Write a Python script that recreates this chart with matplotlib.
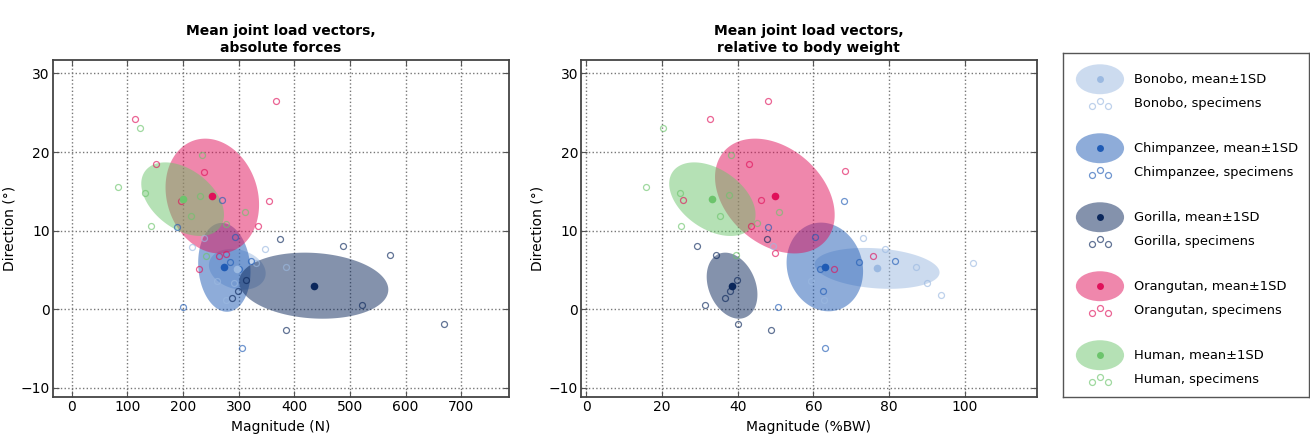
import numpy as np
import matplotlib
matplotlib.use('Agg')
import matplotlib.pyplot as plt
from matplotlib.patches import Ellipse, Polygon

species = ['Bonobo', 'Chimpanzee', 'Gorilla', 'Orangutan', 'Human']
colors = ['#9bb9e1', '#1f5bb5', '#0b275b', '#e0105a', '#6cc46c']

# ---- specimens, absolute forces (N) / direction (deg)
bonobo_abs_mag = [238, 217, 347, 332, 385, 262, 292, 277]
bonobo_abs_dir = [9.0, 7.95, 7.66, 5.92, 5.33, 3.63, 3.3, 1.18]
chimp_abs_mag = [270, 189, 294, 285, 322, 301, 201, 307]
chimp_abs_dir = [13.9, 10.4, 9.2, 5.97, 6.13, 5.12, 0.33, -4.9]
gorilla_abs_mag = [375, 487, 572, 313, 299, 288, 522, 669, 385]
gorilla_abs_dir = [8.9, 8.1, 6.9, 3.72, 2.32, 1.39, 0.5, -1.86, -2.65]
orang_abs_mag = [368, 114, 151, 238, 355, 197, 335, 264, 277, 229]
orang_abs_dir = [26.5, 24.2, 18.5, 17.5, 13.8, 13.8, 10.6, 6.77, 7.0, 5.08]
human_abs_mag = [123, 84, 132, 143, 234, 231, 214, 311, 277, 242]
human_abs_dir = [23.0, 15.5, 14.8, 10.6, 19.6, 14.4, 11.85, 12.4, 10.9, 6.8]

# ---- specimens, relative to body weight (%BW) / direction (deg)
bonobo_rel_mag = [73.2, 49.4, 78.8, 87.1, 90.0, 93.7, 102.1, 59.3, 62.8]
bonobo_rel_dir = [9.07, 8.0, 7.7, 5.33, 3.35, 1.87, 5.93, 3.56, 1.14]
chimp_rel_mag = [68.0, 47.9, 60.3, 72.0, 81.5, 61.8, 62.4, 50.6, 63.0]
chimp_rel_dir = [13.8, 10.4, 9.2, 6.0, 6.1, 5.15, 2.29, 0.34, -4.9]
gorilla_rel_mag = [47.8, 29.3, 34.3, 39.85, 38.0, 36.6, 31.4, 40.2, 48.9]
gorilla_rel_dir = [8.9, 8.1, 6.9, 3.75, 2.33, 1.44, 0.5, -1.84, -2.7]
orang_rel_mag = [48.0, 32.7, 43.1, 68.2, 25.6, 46.2, 43.6, 49.8, 75.7, 65.4]
orang_rel_dir = [26.5, 24.2, 18.5, 17.6, 13.9, 13.9, 10.6, 7.1, 6.78, 5.1]
human_rel_mag = [20.3, 15.8, 24.7, 25.1, 38.3, 37.8, 35.2, 51.0, 45.2, 39.6]
human_rel_dir = [23.05, 15.55, 14.8, 10.6, 19.6, 14.5, 11.86, 12.4, 11.0, 6.95]

# ---- mean +-1SD (order = species)
abs_mean_mag = [297.7, 274.4, 435.0, 252.8, 199.5]
abs_mean_dir = [5.08, 5.33, 3.0, 14.4, 14.0]
abs_sd_mag = [51.0, 47.0, 134.0, 84.0, 74.3]
abs_sd_dir = [2.6, 5.65, 4.2, 7.3, 4.68]
abs_r = [-0.2, -0.1, -0.12, -0.15, -0.42]

rel_mean_mag = [76.8, 63.0, 38.5, 49.8, 33.3]
rel_mean_dir = [5.2, 5.38, 3.0, 14.4, 14.0]
rel_sd_mag = [16.5, 10.1, 6.7, 15.8, 11.4]
rel_sd_dir = [2.6, 5.64, 4.2, 7.3, 4.68]
rel_r = [-0.2, -0.1, -0.27, -0.33, -0.42]

abs_spec = [(bonobo_abs_mag, bonobo_abs_dir), (chimp_abs_mag, chimp_abs_dir),
            (gorilla_abs_mag, gorilla_abs_dir), (orang_abs_mag, orang_abs_dir),
            (human_abs_mag, human_abs_dir)]
rel_spec = [(bonobo_rel_mag, bonobo_rel_dir), (chimp_rel_mag, chimp_rel_dir),
            (gorilla_rel_mag, gorilla_rel_dir), (orang_rel_mag, orang_rel_dir),
            (human_rel_mag, human_rel_dir)]

plt.rcParams['font.family'] = ['DejaVu Sans']
plt.rcParams['font.size'] = 10

fig = plt.figure(figsize=(13.1, 4.4), dpi=100)
ax1 = fig.add_axes([0.0402, 0.097, 0.348, 0.7666])
ax2 = fig.add_axes([0.4435, 0.097, 0.348, 0.7666])
axl = fig.add_axes([0.8115, 0.0977, 0.1878, 0.782])

t = np.linspace(0, 2 * np.pi, 300)


def draw_panel(ax, spec, mm, md, sm, sd, rr):
    for i in range(len(species)):
        ex = mm[i] + sm[i] * np.cos(t)
        ey = md[i] + sd[i] * (rr[i] * np.cos(t) + np.sqrt(1 - rr[i] ** 2) * np.sin(t))
        ax.add_patch(Polygon(np.column_stack([ex, ey]), closed=True,
                             facecolor=colors[i], edgecolor='none', alpha=0.5, zorder=2))
    for i in range(len(species)):
        ax.plot(spec[i][0], spec[i][1], 'o', ls='none', ms=4.3, mfc='none',
                mec=colors[i], mew=0.9, alpha=0.65, zorder=3)
    for i in range(len(species)):
        ax.plot(mm[i], md[i], 'o', ms=5.5, mfc=colors[i], mec='none', zorder=4)
    ax.set_ylim(-11.2, 31.7)
    ax.set_yticks([-10, 0, 10, 20, 30])
    ax.set_ylabel('Direction (°)', labelpad=3)
    ax.grid(True, ls=':', color='#777777', lw=1)
    ax.tick_params(direction='in', top=True, right=True, length=4, color='#555555', pad=2)
    for s in ax.spines.values():
        s.set_color('#444444')
        s.set_linewidth(1.3)


draw_panel(ax1, abs_spec, abs_mean_mag, abs_mean_dir, abs_sd_mag, abs_sd_dir, abs_r)
ax1.set_xlim(-34, 785)
ax1.set_xticks(np.arange(0, 800, 100))
ax1.set_xlabel('Magnitude (N)', labelpad=4)
ax1.set_title('Mean joint load vectors,\nabsolute forces', fontweight='bold', fontsize=10)

draw_panel(ax2, rel_spec, rel_mean_mag, rel_mean_dir, rel_sd_mag, rel_sd_dir, rel_r)
ax2.set_xlim(-1.4, 119)
ax2.set_xticks(np.arange(0, 120, 20))
ax2.set_xlabel('Magnitude (%BW)', labelpad=4)
ax2.set_title('Mean joint load vectors,\nrelative to body weight', fontweight='bold', fontsize=10)

# legend box
axl.set_xlim(0, 1)
axl.set_ylim(0, 1)
axl.set_xticks([])
axl.set_yticks([])
for s in axl.spines.values():
    s.set_color('#555555')
    s.set_linewidth(1.0)
for i, name in enumerate(species):
    yc = 0.9235 - i * 0.2005
    axl.add_patch(Ellipse((0.15, yc), 0.196, 0.087, facecolor=colors[i],
                          edgecolor='none', alpha=0.5))
    axl.plot([0.15], [yc], 'o', ms=5, mfc=colors[i], mec='none')
    ys = yc - 0.07
    axl.plot([0.118, 0.15, 0.184], [ys - 0.008, ys + 0.008, ys - 0.008], 'o', ls='none',
             ms=4.3, mfc='none', mec=colors[i], mew=0.9, alpha=0.65)
    axl.text(0.29, yc, name + ', mean±1SD', va='center', ha='left', fontsize=9.4)
    axl.text(0.29, ys, name + ', specimens', va='center', ha='left', fontsize=9.4)

fig.savefig('out.png', dpi=100)
